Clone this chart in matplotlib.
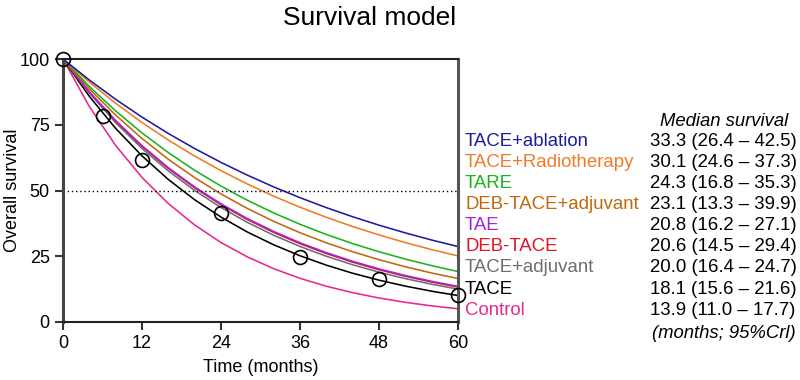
import matplotlib
matplotlib.use("Agg")
import matplotlib.pyplot as plt

plt.rcParams['font.family'] = ['Liberation Sans', 'DejaVu Sans']

# time grid (months) for the model curves
months = [0, 4, 8, 12, 16, 20, 24, 28, 32, 36, 40, 44, 48, 52, 56, 60]

# modelled overall survival (%)
tace_ablation = [100, 92.01, 84.66, 77.90, 71.68, 65.95, 60.68, 55.84, 51.37, 47.27, 43.49, 40.02, 36.82, 33.88, 31.17, 28.68]
tace_radio = [100, 91.20, 83.17, 75.85, 69.18, 63.09, 57.54, 52.47, 47.86, 43.64, 39.80, 36.30, 33.11, 30.19, 27.53, 25.11]
tare = [100, 89.58, 80.25, 71.89, 64.40, 57.69, 51.68, 46.29, 41.47, 37.15, 33.28, 29.81, 26.71, 23.92, 21.43, 19.20]
deb_tace_adj = [100, 88.69, 78.66, 69.76, 61.87, 54.88, 48.67, 43.17, 38.28, 33.95, 30.11, 26.71, 23.69, 21.01, 18.63, 16.53]
tae = [100, 87.52, 76.60, 67.04, 58.67, 51.35, 44.94, 39.33, 34.42, 30.13, 26.37, 23.08, 20.20, 17.68, 15.47, 13.54]
deb_tace = [100, 87.41, 76.40, 66.78, 58.37, 51.02, 44.59, 38.98, 34.07, 29.78, 26.03, 22.75, 19.89, 17.38, 15.19, 13.28]
tace_adj = [100, 87.06, 75.79, 65.98, 57.43, 50.00, 43.53, 37.89, 32.99, 28.72, 25.00, 21.76, 18.95, 16.49, 14.36, 12.50]
tace = [100, 85.80, 73.61, 63.16, 54.19, 46.49, 39.89, 34.22, 29.36, 25.19, 21.61, 18.54, 15.91, 13.65, 11.71, 10.05]
control = [100, 81.92, 67.10, 54.97, 45.03, 36.89, 30.21, 24.75, 20.28, 16.61, 13.60, 11.14, 9.13, 7.48, 6.13, 5.02]

# observed TACE data (circles)
obs_months = [0, 6, 12, 24, 36, 48, 60]
obs_surv = [100, 78.3, 61.5, 41.6, 24.9, 16.2, 10.4]

labels = ["TACE+ablation", "TACE+Radiotherapy", "TARE", "DEB-TACE+adjuvant", "TAE",
          "DEB-TACE", "TACE+adjuvant", "TACE", "Control"]
medians = [33.3, 30.1, 24.3, 23.1, 20.8, 20.6, 20.0, 18.1, 13.9]
lower = [26.4, 24.6, 16.8, 13.3, 16.2, 14.5, 16.4, 15.6, 11.0]
upper = [42.5, 37.3, 35.3, 39.9, 27.1, 29.4, 24.7, 21.6, 17.7]
curves = [tace_ablation, tace_radio, tare, deb_tace_adj, tae, deb_tace, tace_adj, tace, control]
colors = ["#1c1c9c", "#f07a26", "#1fb01f", "#c0680e", "#a424d6",
          "#e01424", "#6e6e6e", "#000000", "#e8288c"]

W, H = 800, 380
fig = plt.figure(figsize=(8, 3.8), dpi=100)
ax = fig.add_axes([63 / W, 1 - 322 / H, (458 - 63) / W, (322 - 59) / H])

# draw lowest curves first so the upper ones sit on top
for y, c in zip(curves[::-1], colors[::-1]):
    ax.plot(months, y, color=c, lw=1.15, solid_joinstyle='round')

ax.plot(obs_months, obs_surv, 'o', ms=10, mfc='none', mec='black', mew=1.2, clip_on=False, zorder=5)
ax.axhline(50, color='black', lw=1.0, ls=(0, (1, 2)))

ax.set_xlim(0, 60)
ax.set_ylim(0, 100)
ax.set_xticks([0, 12, 24, 36, 48, 60])
ax.set_yticks([0, 25, 50, 75, 100])
ax.tick_params(direction='out', length=6, width=1.5, labelsize=13, colors='#333333', labelcolor='black')

ax.spines['left'].set_linewidth(2.2)
ax.spines['left'].set_color('#444444')
ax.spines['bottom'].set_linewidth(1.5)
ax.spines['bottom'].set_color('#222222')
ax.spines['top'].set_linewidth(1.5)
ax.spines['top'].set_color('#222222')
ax.spines['right'].set_linewidth(2.2)
ax.spines['right'].set_color('#555555')

# titles
fig.text(370 / W, 1 - 18 / H, "Survival model", ha='center', va='center', fontsize=19)
fig.text(261 / W, 1 - 367 / H, "Time (months)", ha='center', va='center', fontsize=13)
fig.text(13 / W, 1 - 190 / H, "Overall survival", ha='center', va='center', fontsize=13, rotation=90)

# legend-like labels with median survival
fig.text(724 / W, 1 - 121 / H, "Median survival", ha='center', va='center', fontsize=13.3, style='italic')
row0, step = 141.7, 21.05
for i, (lab, c) in enumerate(zip(labels, colors)):
    yy = 1 - (row0 + i * step) / H
    fig.text(465 / W, yy, lab, ha='left', va='center', fontsize=13.4, color=c)
    fig.text(650 / W, yy, "{:.1f} ({:.1f} \u2013 {:.1f})".format(medians[i], lower[i], upper[i]),
             ha='left', va='center', fontsize=13.4)
fig.text(796 / W, 1 - 334 / H, "(months; 95%Crl)", ha='right', va='center', fontsize=13.3, style='italic')

fig.savefig("out.png", dpi=100)
